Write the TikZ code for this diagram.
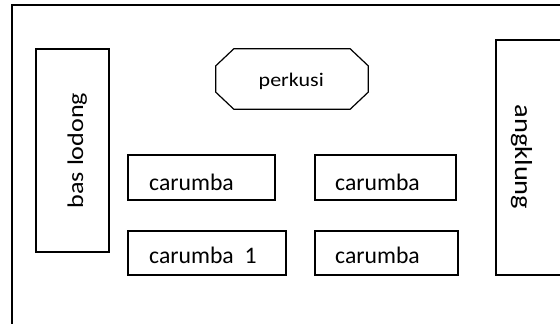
\documentclass[tikz,border=0pt]{standalone}
\usepackage{fontspec}
\setmainfont{Carlito}
\usepackage{graphicx}
\tikzset{
  frame/.style={draw, line width=1.6pt, rectangle, inner sep=0pt},
  seat/.style={draw, line width=1.2pt, rectangle, inner sep=0pt},
  hidden/.style={rectangle, inner sep=0pt},
  txt/.style={inner sep=0pt, font=\fontsize{23.7}{24}\selectfont},
}
\begin{document}
\begin{tikzpicture}[x=1pt,y=-1pt]
\useasboundingbox (0,0) rectangle (560,324);
\clip (0,0) rectangle (560,324);
\fill[white] (0,0) rectangle (560,324);
% room
\node[frame, minimum width=564pt, minimum height=331pt, anchor=north west] (room) at (11,4) {};
% bas lodong
\node[seat, minimum width=73pt, minimum height=203pt] (bas) at (72.5,150.5) {};
\node[txt, font=\fontsize{22.5}{22.5}\selectfont, rotate=90, anchor=base west] (bastxt) at (83,208.5) {\scalebox{1.16}[1]{bas lodong}};
% angklung
\node[seat, minimum width=79pt, minimum height=235pt] (ang) at (535.5,157.5) {};
\node[txt, font=\fontsize{24.5}{24.5}\selectfont, rotate=-90, anchor=base west] (angtxt) at (515,104.5) {\scalebox{1.16}[1]{angklung}};
% perkusi
\node[hidden, minimum width=152pt, minimum height=60pt] (perk) at (292,79) {};
\draw[line width=1.2pt]
  ([xshift=18pt]perk.north west) -- ([xshift=-18pt]perk.north east)
  -- ([yshift=-17pt]perk.north east) -- ([yshift=17pt]perk.south east)
  -- ([xshift=-18pt]perk.south east) -- ([xshift=18pt]perk.south west)
  -- ([yshift=17pt]perk.south west) -- ([yshift=-17pt]perk.north west) -- cycle;
\node[txt, font=\fontsize{19.3}{19.3}\selectfont, anchor=base west] (perktxt) at (258.5,86.7) {\scalebox{1.14}[1]{perkusi}};
% carumba boxes
\node[seat, minimum width=147pt, minimum height=45pt] (c1) at (201.5,177.5) {};
\node[seat, minimum width=141pt, minimum height=45pt] (c2) at (385.5,177.5) {};
\node[seat, minimum width=158pt, minimum height=44pt] (c3) at (207,253) {};
\node[seat, minimum width=143pt, minimum height=44pt] (c4) at (386.5,253) {};
\node[txt, anchor=base west] (t1) at (149,190.3) {carumba};
\node[txt, anchor=base west] (t2) at (335,190.3) {carumba};
\node[txt, anchor=base west] (t3) at (149,263.7) {carumba\ \ 1};
\node[txt, anchor=base west] (t4) at (335,263.7) {carumba};
\end{tikzpicture}
\end{document}
